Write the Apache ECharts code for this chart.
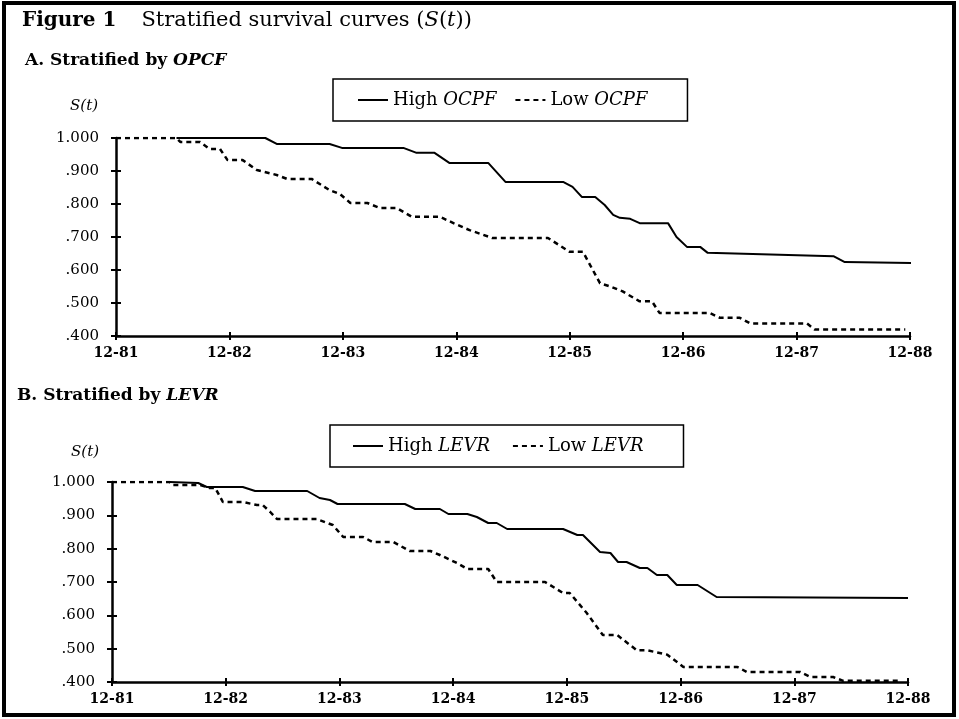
<!DOCTYPE html>
<html>
<head>
<meta charset="utf-8">
<script src="https://cdn.jsdelivr.net/npm/echarts@6/dist/echarts.min.js"></script>
<style>
html,body{margin:0;padding:0;background:#fff;}
#c{width:959px;height:719px;}
</style>
</head>
<body>
<div id="c"></div>
<script>
// x in months since 12-81, y = S(t)
var xTickLabels = ['12-81','12-82','12-83','12-84','12-85','12-86','12-87','12-88'];
var yTickLabels = ['.400','.500','.600','.700','.800','.900','1.000'];

var highOCPF = [[6.4,1.000],[15.8,1.000],[17.0,0.982],[22.6,0.982],[23.9,0.970],[30.4,0.970],[31.8,0.955],[33.7,0.955],[35.3,0.924],[39.4,0.924],[41.2,0.867],[47.3,0.867],[48.3,0.852],[49.3,0.821],[50.7,0.821],[51.7,0.797],[52.6,0.767],[53.3,0.758],[54.4,0.755],[55.4,0.742],[58.4,0.742],[59.3,0.700],[60.4,0.670],[61.8,0.670],[62.6,0.652],[75.9,0.642],[77.1,0.624],[84.2,0.621]];
var lowOCPF = [[0,1.000],[6.4,1.000],[6.8,0.988],[8.9,0.988],[9.9,0.967],[11.0,0.967],[11.8,0.933],[13.4,0.933],[14.9,0.903],[17.0,0.888],[18.1,0.876],[20.7,0.876],[22.6,0.842],[23.7,0.830],[24.8,0.803],[26.6,0.803],[27.9,0.788],[29.7,0.788],[31.3,0.761],[34.3,0.761],[35.7,0.742],[37.4,0.721],[39.8,0.697],[45.7,0.697],[48.0,0.655],[49.4,0.655],[51.2,0.560],[52.3,0.550],[53.6,0.535],[55.4,0.505],[56.7,0.505],[57.5,0.470],[62.8,0.470],[63.9,0.455],[66.0,0.455],[67.1,0.438],[73.1,0.438],[73.9,0.420],[83.5,0.420]];
var highLEVR = [[6.1,1.000],[9.1,0.997],[10.0,0.985],[13.8,0.985],[15.1,0.973],[20.6,0.973],[21.9,0.952],[23.0,0.946],[23.8,0.934],[30.9,0.934],[32.0,0.919],[34.6,0.919],[35.5,0.904],[37.5,0.904],[38.5,0.895],[39.7,0.877],[40.6,0.877],[41.7,0.859],[47.6,0.859],[49.1,0.841],[49.7,0.841],[51.5,0.790],[52.6,0.787],[53.4,0.760],[54.3,0.760],[55.7,0.742],[56.5,0.742],[57.5,0.721],[58.6,0.721],[59.6,0.691],[61.8,0.691],[63.8,0.655],[84.0,0.652]];
var lowLEVR = [[0,1.000],[6.1,1.000],[6.3,0.991],[9.3,0.991],[10.3,0.982],[10.9,0.982],[11.7,0.940],[13.8,0.940],[15.3,0.931],[15.9,0.931],[16.7,0.910],[17.4,0.889],[21.6,0.889],[23.3,0.871],[24.4,0.835],[26.5,0.835],[27.5,0.820],[29.7,0.820],[31.4,0.793],[33.6,0.793],[34.6,0.781],[36.4,0.757],[37.5,0.739],[39.7,0.739],[40.6,0.700],[45.7,0.700],[47.6,0.667],[48.3,0.667],[50.1,0.607],[51.8,0.541],[53.3,0.541],[55.4,0.495],[56.5,0.495],[58.6,0.482],[60.3,0.445],[66.0,0.445],[67.0,0.430],[72.6,0.430],[73.7,0.415],[76.1,0.415],[77.1,0.404],[83.2,0.404]];

var serif = '"DejaVu Serif", "Liberation Serif", serif';
var chart = echarts.init(document.getElementById('c'));

function xAxes(grid, main) {
  return {
    gridIndex: grid, type: 'value', min: 0, max: 84, interval: 12, position: 'bottom', offset: 0,
    axisLine: {show: main, onZero: false, lineStyle: {color: '#000', width: 2.5}},
    axisTick: {show: true, inside: !main, length: 4, lineStyle: {color: '#000', width: 2}},
    axisLabel: {show: main, margin: 10, color: '#000', fontFamily: serif, fontWeight: 'bold', fontSize: 14,
      formatter: function (v) { return xTickLabels[Math.round(v / 12)]; }},
    splitLine: {show: false}
  };
}
function yAxes(grid, main) {
  return {
    gridIndex: grid, type: 'value', min: 0.4, max: 1, interval: 0.1, position: 'left', offset: 0,
    axisLine: {show: main, onZero: false, lineStyle: {color: '#000', width: 2.5}},
    axisTick: {show: true, inside: !main, length: 5, lineStyle: {color: '#000', width: 2}},
    axisLabel: {show: main, margin: 17, color: '#000', fontFamily: serif, fontSize: 15,
      formatter: function (v) { return yTickLabels[Math.round((v - 0.4) * 10)]; }},
    splitLine: {show: false}
  };
}
function legendFmt(name) {
  var p = name.split(' ');
  return '{n|' + p[0] + ' }{i|' + p[1] + '}';
}
var legendRich = {
  n: {fontFamily: serif, fontSize: 18, fontWeight: 'normal', color: '#000'},
  i: {fontFamily: serif, fontSize: 18, fontStyle: 'italic', fontWeight: 'normal', color: '#000'}
};
function lineSeries(name, data, xi, dashed) {
  return {
    name: name, type: 'line', xAxisIndex: xi, yAxisIndex: xi, data: data,
    symbol: 'none', showSymbol: false, silent: true,
    lineStyle: {color: '#000', width: dashed ? 2.5 : 2, type: dashed ? [5, 4] : 'solid'},
    itemStyle: {color: '#000'}
  };
}
function legendOf(names, left, top, pad, gap) {
  return {
    left: left, top: top, orient: 'horizontal', data: names,
    padding: pad, itemGap: gap, itemWidth: 30, itemHeight: 14,
    borderColor: '#000', borderWidth: 1.5, borderRadius: 0,
    itemStyle: {color: 'transparent', borderColor: 'transparent', borderWidth: 0, opacity: 0},
    formatter: legendFmt, textStyle: {rich: legendRich}, selectedMode: false
  };
}

chart.setOption({
  animation: false,
  backgroundColor: '#fff',
  title: [
    {left: 22, top: 10, padding: 0,
     text: '{b|Figure 1}     {n|Stratified survival curves (}{i|S}{n|(}{i|t}{n|))}',
     textStyle: {rich: {
       b: {fontFamily: serif, fontSize: 20, fontWeight: 'bold', color: '#000'},
       n: {fontFamily: serif, fontSize: 21, fontWeight: 'normal', color: '#000'},
       i: {fontFamily: serif, fontSize: 21, fontStyle: 'italic', fontWeight: 'normal', color: '#000'}}}},
    {left: 25, top: 52, padding: 0, text: '{b|A. Stratified by }{i|OPCF}',
     textStyle: {rich: {
       b: {fontFamily: serif, fontSize: 17, fontWeight: 'bold', color: '#000'},
       i: {fontFamily: serif, fontSize: 17, fontWeight: 'bold', fontStyle: 'italic', color: '#000'}}}},
    {left: 17, top: 387, padding: 0, text: '{b|B. Stratified by }{i|LEVR}',
     textStyle: {rich: {
       b: {fontFamily: serif, fontSize: 17, fontWeight: 'bold', color: '#000'},
       i: {fontFamily: serif, fontSize: 17, fontWeight: 'bold', fontStyle: 'italic', color: '#000'}}}},
    {left: 70, top: 99, padding: 0, text: 'S(t)',
     textStyle: {fontFamily: serif, fontSize: 15, fontStyle: 'italic', fontWeight: 'normal', color: '#000'}},
    {left: 71, top: 445, padding: 0, text: 'S(t)',
     textStyle: {fontFamily: serif, fontSize: 15, fontStyle: 'italic', fontWeight: 'normal', color: '#000'}}
  ],
  legend: [
    legendOf(['High OCPF', 'Low OCPF'], 333, 79, [12, 40, 12, 24], 18),
    legendOf(['High LEVR', 'Low LEVR'], 330, 425, [12, 40, 12, 22], 22)
  ],
  grid: [
    {left: 116, right: 49, top: 138, height: 198},
    {left: 112, right: 51, top: 482, height: 200}
  ],
  xAxis: [xAxes(0, true), xAxes(1, true), xAxes(0, false), xAxes(1, false)],
  yAxis: [yAxes(0, true), yAxes(1, true), yAxes(0, false), yAxes(1, false)],
  series: [
    lineSeries('High OCPF', highOCPF, 0, false),
    lineSeries('Low OCPF', lowOCPF, 0, true),
    lineSeries('High LEVR', highLEVR, 1, false),
    lineSeries('Low LEVR', lowLEVR, 1, true)
  ],
  graphic: [
    {type: 'rect', shape: {x: 4, y: 3, width: 950, height: 712},
     style: {fill: 'none', stroke: '#000', lineWidth: 4}, silent: true}
  ]
});
</script>
</body>
</html>
